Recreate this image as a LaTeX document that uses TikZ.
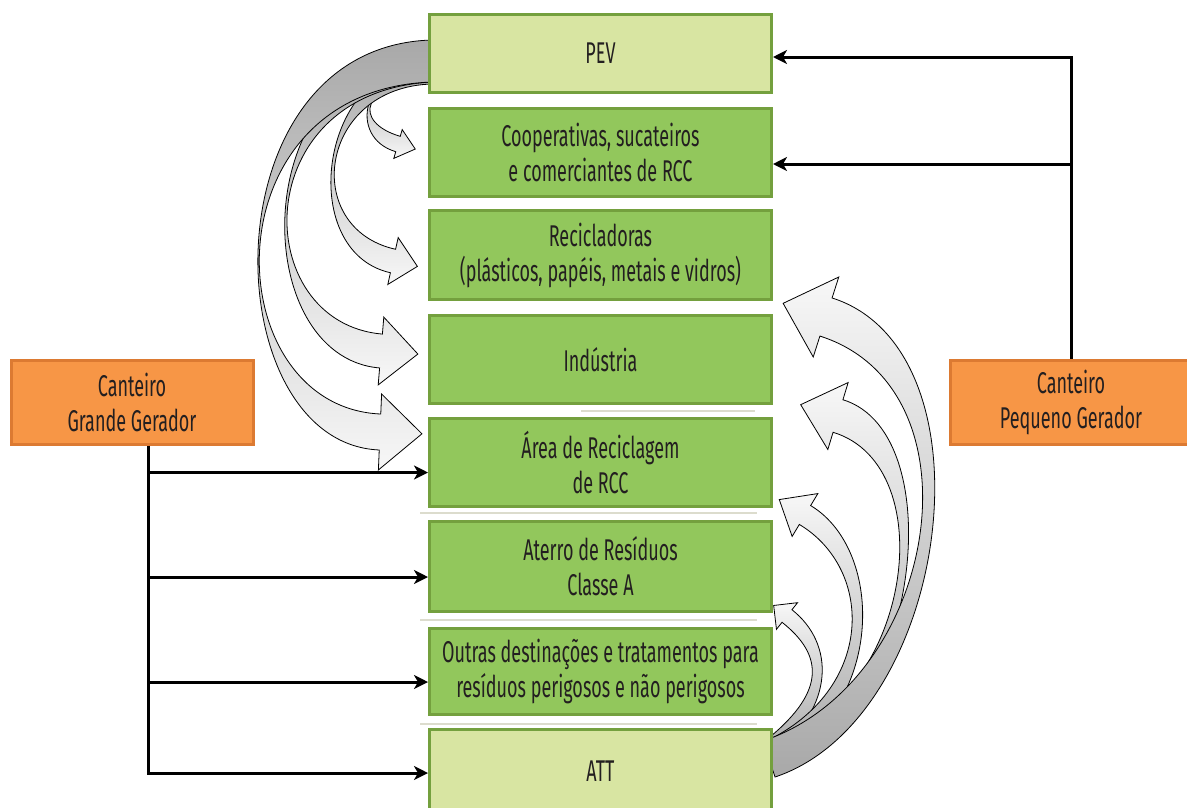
\documentclass[tikz,border=0pt]{standalone}
\usepackage{fontspec}
\setmainfont{Fira Sans}[FakeStretch=0.6]
\usetikzlibrary{calc,arrows.meta}

\definecolor{pevfill}{HTML}{D8E5A2}
\definecolor{greenfill}{HTML}{92C75C}
\definecolor{greenline}{HTML}{74A03E}
\definecolor{orangefill}{HTML}{F79646}
\definecolor{orangeline}{HTML}{DC7A32}
\definecolor{sepline}{HTML}{DCDCCD}
\definecolor{txt}{HTML}{231F20}

% curved block arrow: tail, ctrl a, ctrl b, head base, tail half width,
% end half width, head half width, head length, style
\newcommand{\bentarrow}[9]{%
  \coordinate (ba-p0) at #1;
  \coordinate (ba-p1) at #2;
  \coordinate (ba-p2) at #3;
  \coordinate (ba-p3) at #4;
  \coordinate (ba-l0) at ($(ba-p0)!#5!90:(ba-p1)$);
  \coordinate (ba-r0) at ($(ba-p0)!#5!-90:(ba-p1)$);
  \coordinate (ba-l3) at ($(ba-p3)!#6!-90:(ba-p2)$);
  \coordinate (ba-r3) at ($(ba-p3)!#6!90:(ba-p2)$);
  \coordinate (ba-hl) at ($(ba-p3)!#7!-90:(ba-p2)$);
  \coordinate (ba-hr) at ($(ba-p3)!#7!90:(ba-p2)$);
  \coordinate (ba-tip) at ($(ba-p3)!-#8!(ba-p2)$);
  \draw[#9] (ba-l0) .. controls ($(ba-p1)+(ba-l0)-(ba-p0)$) and ($(ba-p2)+(ba-l3)-(ba-p3)$) .. (ba-l3)
    -- (ba-hl) -- (ba-tip) -- (ba-hr) -- (ba-r3)
    .. controls ($(ba-p2)+(ba-r3)-(ba-p3)$) and ($(ba-p1)+(ba-r0)-(ba-p0)$) .. (ba-r0) -- cycle;
}

\tikzset{
  box/.style={draw=greenline, fill=greenfill, line width=3pt, minimum width=342pt,
    inner sep=0pt, align=center, text=txt, font=\fontsize{30}{35}\selectfont},
  endbox/.style={box, fill=pevfill},
  genbox/.style={box, draw=orangeline, fill=orangefill, minimum width=242pt, minimum height=84pt},
  leftarrow/.style={draw=black, line width=0.8pt, top color=gray!68, bottom color=gray!6},
  rightarrow/.style={draw=black, line width=0.8pt, bottom color=gray!68, top color=gray!6},
  wire/.style={line width=3pt, -{Stealth[length=14pt,width=14pt,inset=4pt]}},
  sep/.style={sepline, line width=2pt}
}

\begin{document}
\begin{tikzpicture}[x=1pt, y=-1pt]
  \useasboundingbox (0,0) rectangle (1187,807);

  % arrows leaving PEV
  \bentarrow{(432,74)}{(360,74)}{(350,130)}{(398,144)}{8pt}{8pt}{15pt}{18pt}{leftarrow}
  \bentarrow{(432,72)}{(318,75)}{(298,240)}{(393,261)}{12pt}{12pt}{24pt}{25pt}{leftarrow}
  \bentarrow{(432,66)}{(245,75)}{(248,340)}{(381,351)}{16pt}{17pt}{34pt}{37pt}{leftarrow}
  \bentarrow{(432,61)}{(205,68)}{(215,425)}{(380,432)}{21pt}{18pt}{38pt}{42pt}{leftarrow}

  % arrows leaving ATT
  \bentarrow{(769,748)}{(830,700)}{(830,650)}{(787,616)}{8pt}{8pt}{17pt}{17pt}{rightarrow}
  \bentarrow{(769,752)}{(880,700)}{(880,560)}{(805,515)}{11pt}{11pt}{25pt}{30pt}{rightarrow}
  \bentarrow{(769,757)}{(915,720)}{(950,450)}{(838,416)}{14pt}{17pt}{35pt}{39pt}{rightarrow}
  \bentarrow{(769,759)}{(945,700)}{(992,370)}{(826,317)}{19pt}{20pt}{42pt}{45pt}{rightarrow}

  % destinations
  \node[endbox, minimum height=78pt] (pev) at (600.5,53.5) {PEV};
  \node[box, minimum height=88pt] (coop) at (600.5,152.5) {Cooperativas, sucateiros\\e comerciantes de RCC};
  \node[box, minimum height=89pt] (recic) at (600.5,255) {Recicladoras\\(plásticos, papéis, metais e vidros)};
  \node[box, minimum height=88pt] (indus) at (600.5,359.5) {Indústria};
  \node[box, minimum height=88pt] (area) at (600.5,462.5) {Área de Reciclagem\\de RCC};
  \node[box, minimum height=90pt] (aterro) at (600.5,566) {Aterro de Resíduos\\Classe A};
  \node[box, minimum height=86pt] (outras) at (600.5,671) {Outras destinações e tratamentos para\\resíduos perigosos e não perigosos};
  \node[endbox, minimum height=84pt] (att) at (600.5,771) {ATT};

  % thin separators
  \draw[sep] (581,411) -- (755,411);
  \draw[sep] (420,513) -- (757,513);
  \draw[sep] (420,620) -- (757,620);
  \draw[sep] (420,724) -- (757,724);

  % generators
  \node[genbox] (grande) at (132,402) {Canteiro\\Grande Gerador};
  \node[genbox] (pequeno) at (1071,402) {Canteiro\\Pequeno Gerador};

  % Grande Gerador links
  \coordinate (gtop) at ($(grande.south)+(16,0)$);
  \coordinate (in-area) at ($(area.west)+(0,10)$);
  \coordinate (in-aterro) at ($(aterro.west)+(0,11)$);
  \coordinate (in-outras) at ($(outras.west)+(0,11)$);
  \coordinate (in-att) at ($(att.west)+(0,2)$);
  \draw[wire] (gtop) |- (in-att);
  \draw[wire] (gtop |- in-area) -- (in-area);
  \draw[wire] (gtop |- in-aterro) -- (in-aterro);
  \draw[wire] (gtop |- in-outras) -- (in-outras);

  % Pequeno Gerador links
  \coordinate (in-pev) at ($(pev.east)+(0,3.5)$);
  \coordinate (in-coop) at ($(coop.east)+(0,11.5)$);
  \draw[wire] (pequeno.north) |- (in-pev);
  \draw[wire] (pequeno.north |- in-coop) -- (in-coop);
\end{tikzpicture}
\end{document}
